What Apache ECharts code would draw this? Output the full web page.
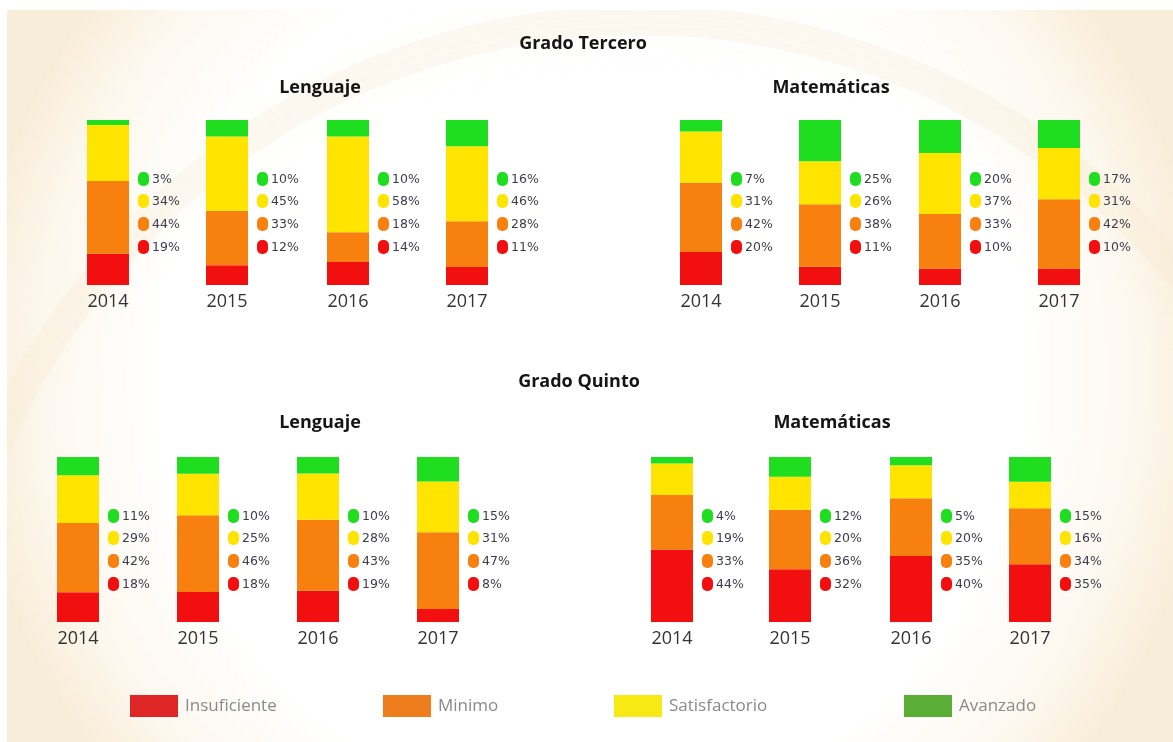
<!DOCTYPE html>
<html>
<head>
<meta charset="utf-8">
<title>Niveles de desempeño</title>
<script src="https://cdn.jsdelivr.net/npm/echarts@6/dist/echarts.min.js"></script>
<style>
  html, body { margin: 0; padding: 0; background: #fff; }
  #chart { width: 1173px; height: 742px; }
</style>
</head>
<body>
<div id="chart"></div>
<script>
// ---- Data -------------------------------------------------------------
const years = ['2014', '2015', '2016', '2017'];
const levels = ['Insuficiente', 'Minimo', 'Satisfactorio', 'Avanzado'];

// Grado Tercero - Lenguaje (% por año)
const t3LenInsuficiente  = [19, 12, 14, 11];
const t3LenMinimo        = [44, 33, 18, 28];
const t3LenSatisfactorio = [34, 45, 58, 46];
const t3LenAvanzado      = [3, 10, 10, 16];

// Grado Tercero - Matemáticas
const t3MatInsuficiente  = [20, 11, 10, 10];
const t3MatMinimo        = [42, 38, 33, 42];
const t3MatSatisfactorio = [31, 26, 37, 31];
const t3MatAvanzado      = [7, 25, 20, 17];

// Grado Quinto - Lenguaje
const q5LenInsuficiente  = [18, 18, 19, 8];
const q5LenMinimo        = [42, 46, 43, 47];
const q5LenSatisfactorio = [29, 25, 28, 31];
const q5LenAvanzado      = [11, 10, 10, 15];

// Grado Quinto - Matemáticas
const q5MatInsuficiente  = [44, 32, 40, 35];
const q5MatMinimo        = [33, 36, 35, 34];
const q5MatSatisfactorio = [19, 20, 20, 16];
const q5MatAvanzado      = [4, 12, 5, 15];

const panels = [
  { title: 'Lenguaje',    values: [t3LenInsuficiente, t3LenMinimo, t3LenSatisfactorio, t3LenAvanzado] },
  { title: 'Matemáticas', values: [t3MatInsuficiente, t3MatMinimo, t3MatSatisfactorio, t3MatAvanzado] },
  { title: 'Lenguaje',    values: [q5LenInsuficiente, q5LenMinimo, q5LenSatisfactorio, q5LenAvanzado] },
  { title: 'Matemáticas', values: [q5MatInsuficiente, q5MatMinimo, q5MatSatisfactorio, q5MatAvanzado] }
];

// ---- Layout & style ---------------------------------------------------
const barColors    = ['#F20F0F', '#F7800E', '#FFE400', '#1FDE1F'];
const legendColors = ['#DF2626', '#EE7E1D', '#F7EA14', '#5BAE35'];
const barWidth = 42;
const barHeight = 165;
const panelTops = [120, 120, 457, 457];
const panelBarLefts = [
  [87, 206, 327, 446],
  [680, 799, 919, 1038],
  [57, 177, 297, 417],
  [651, 769, 890, 1009]
];
const rowOffsets = [59, 81, 104, 127];   // label rows below the bar top (Avanzado ... Insuficiente)

const grids = [], xAxes = [], yAxes = [], series = [];
let gi = 0;
panels.forEach((panel, p) => {
  years.forEach((year, y) => {
    const vals = panel.values.map(arr => arr[y]);
    const total = vals.reduce((a, b) => a + b, 0);
    grids.push({ left: panelBarLefts[p][y], top: panelTops[p], width: barWidth, height: barHeight });
    xAxes.push({
      gridIndex: gi, type: 'category', data: [year],
      axisLine: { show: false }, axisTick: { show: false },
      axisLabel: { fontSize: 18, color: '#333', margin: 8, fontFamily: 'Open Sans' }
    });
    yAxes.push({ gridIndex: gi, type: 'value', min: 0, max: total, show: false, splitLine: { show: false } });
    levels.forEach((lv, k) => {
      series.push({
        type: 'bar', name: lv, stack: 'g' + gi,
        xAxisIndex: gi, yAxisIndex: gi,
        barWidth: barWidth,
        itemStyle: { color: barColors[k] },
        emphasis: { disabled: true },
        data: [vals[k]]
      });
    });
    // value list beside the bar: Avanzado on top, Insuficiente at the bottom
    series.push({
      type: 'custom', xAxisIndex: gi, yAxisIndex: gi,
      silent: true,
      encode: { x: 0, y: 1 },
      data: [[0, total, vals[3], vals[2], vals[1], vals[0]]],
      renderItem: function (params, api) {
        const top = api.coord([0, api.value(1)]);
        const x0 = top[0] + barWidth / 2 + 9;
        const children = [];
        for (let r = 0; r < 4; r++) {
          const cy = top[1] + rowOffsets[r];
          children.push({
            type: 'rect',
            shape: { x: x0, y: cy - 7, width: 11, height: 14, r: 5 },
            style: { fill: barColors[3 - r] }
          });
          children.push({
            type: 'text',
            style: {
              x: x0 + 14, y: cy + 0.5, text: api.value(2 + r) + '%',
              fill: '#3C3C4E', font: '12.5px "DejaVu Sans"',
              verticalAlign: 'middle', align: 'left'
            }
          });
        }
        return { type: 'group', children: children };
      }
    });
    gi++;
  });
});

const legendLefts = [130, 383, 614, 904];
const legends = levels.map((lv, k) => ({
  left: legendLefts[k], top: 695, padding: 0,
  itemWidth: 48, itemHeight: 22, icon: 'rect', itemGap: 0,
  selectedMode: false,
  textStyle: { fontSize: 17, color: '#8A8A8A', fontFamily: 'Open Sans', padding: [0, 0, 0, 2] },
  data: [{ name: lv, itemStyle: { color: legendColors[k] } }]
}));

const titleFont = 'bold 18px "Open Sans"';
const headings = [
  { text: 'Grado Tercero', x: 583, y: 44 },
  { text: 'Lenguaje',      x: 320, y: 88 },
  { text: 'Matemáticas',   x: 831, y: 88 },
  { text: 'Grado Quinto',  x: 579, y: 382 },
  { text: 'Lenguaje',      x: 320, y: 423 },
  { text: 'Matemáticas',   x: 832, y: 423 }
];

const chart = echarts.init(document.getElementById('chart'), null, { renderer: 'canvas' });
chart.setOption({
  backgroundColor: '#ffffff',
  animation: false,
  graphic: [
    // cream paper, fading to white towards the middle
    {
      type: 'rect', z: -10, silent: true,
      shape: { x: 7, y: 10, width: 1166, height: 732 },
      style: {
        fill: {
          type: 'radial', x: 0.5, y: 0.5, r: 0.85,
          colorStops: [
            { offset: 0, color: '#ffffff' },
            { offset: 0.7, color: '#ffffff' },
            { offset: 0.88, color: '#FDF8EF' },
            { offset: 1, color: '#F8EDD8' }
          ]
        }
      }
    },
    {
      type: 'circle', z: -9, silent: true,
      shape: { cx: 640, cy: 720, r: 700 },
      style: { fill: 'none', stroke: 'rgba(244,228,196,0.22)', lineWidth: 30, shadowBlur: 40, shadowColor: 'rgba(244,228,196,0.4)' }
    },
    {
      type: 'rect', z: -8, silent: true,
      shape: { x: 0, y: 0, width: 1173, height: 10 },
      style: { fill: '#ffffff' }
    },
    {
      type: 'rect', z: -8, silent: true,
      shape: { x: 0, y: 0, width: 7, height: 742 },
      style: { fill: '#ffffff' }
    },
    ...headings.map(h => ({
      type: 'text', z: 10, silent: true,
      style: { x: h.x, y: h.y, text: h.text, font: titleFont, fill: '#151515', align: 'center', verticalAlign: 'middle' }
    }))
  ],
  legend: legends,
  grid: grids,
  xAxis: xAxes,
  yAxis: yAxes,
  series: series
});
</script>
</body>
</html>
